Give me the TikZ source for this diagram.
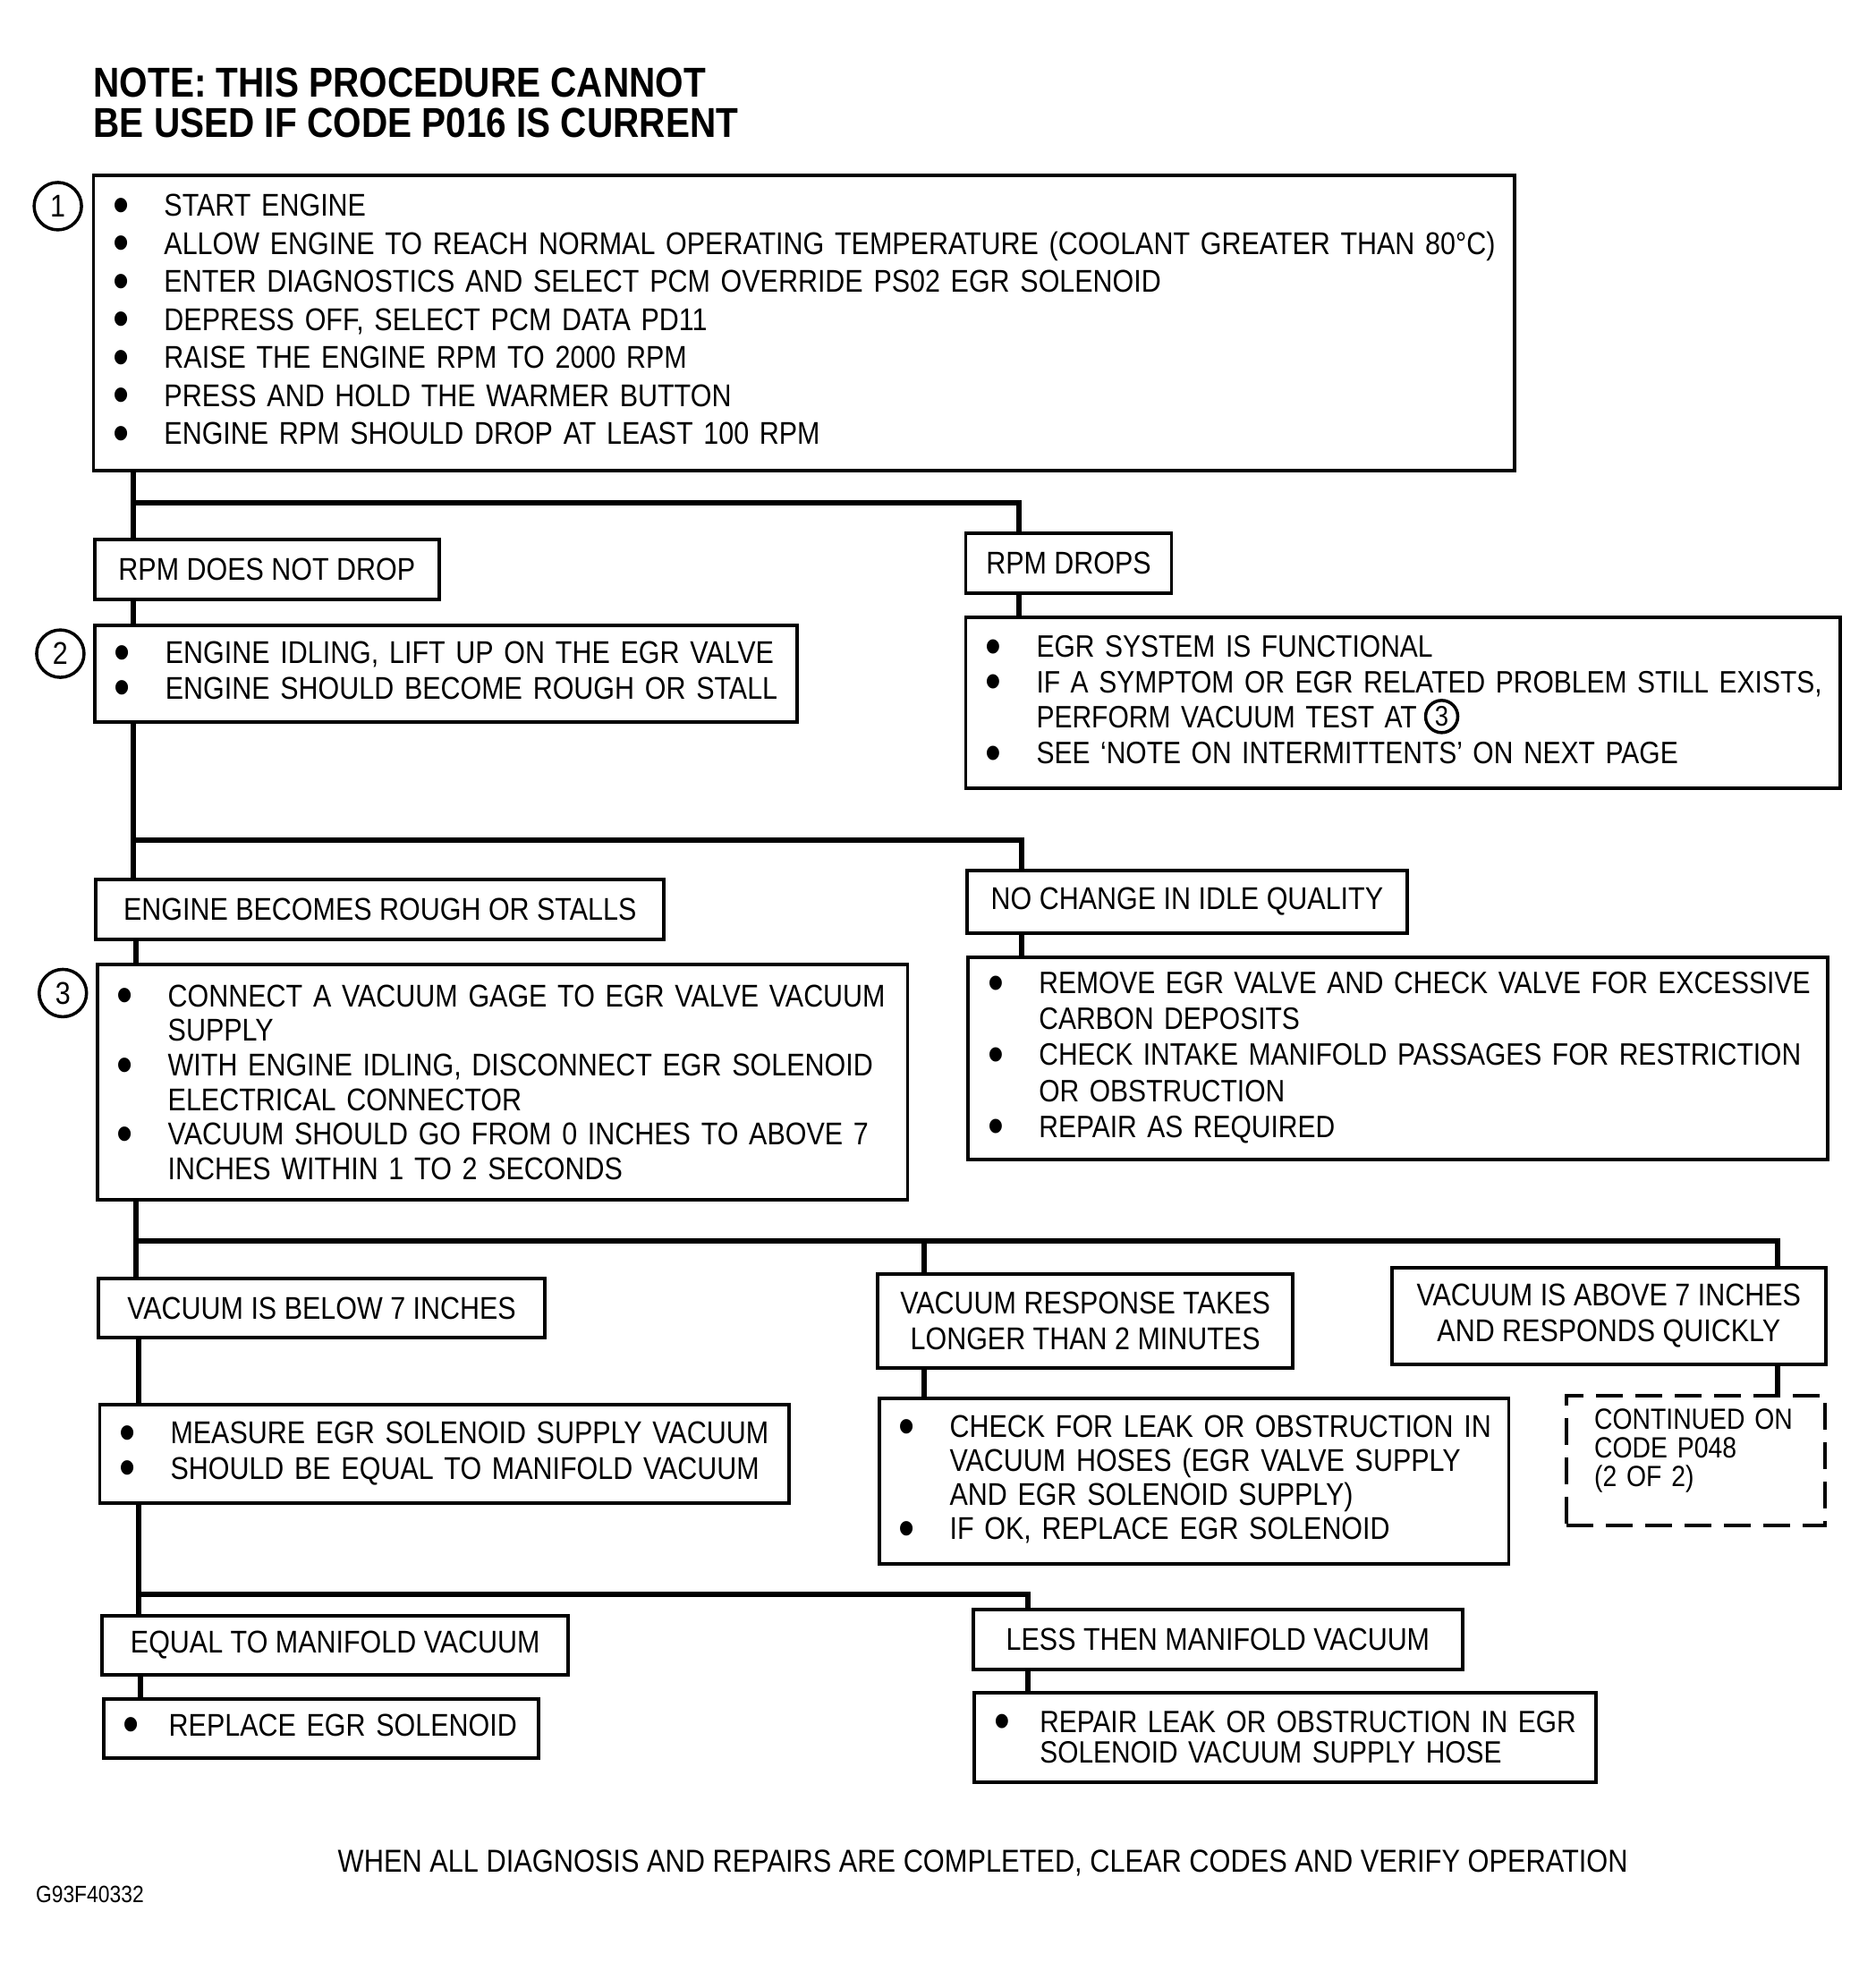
\documentclass[tikz,border=0pt]{standalone}
\usepackage{fontspec}
\setmainfont{Liberation Sans}[FakeStretch=0.867]
\usepackage{graphicx}
\usepackage{tikz}
\usetikzlibrary{positioning, calc}

% bullet line and hanging line for the step boxes (never wrapped)
\newlength{\bulw}
\setlength{\bulw}{0.79cm}
\newcommand{\bul}[1]{\makebox[\bulw][l]{\hspace*{0.22cm}\raisebox{-0.22em}{\scalebox{1.7}{\textbullet}}}\mbox{#1}}
\newcommand{\hang}[1]{\hspace*{\bulw}\mbox{#1}}
\newcommand{\pad}{\hspace*{0.31cm}}

\begin{document}
\begin{tikzpicture}[x=0.014048cm, y=-0.014048cm,
        % Style definitions
        stepbox/.style={
            rectangle,
            draw=black,
            line width=1.1pt,
            anchor=north west,
            align=left,
            inner xsep=0pt,
            inner ysep=0pt,
            font=\fontsize{10}{11.3}\selectfont
        },
        casebox/.style={
            rectangle,
            draw=black,
            line width=1.1pt,
            anchor=north west,
            align=center,
            inner sep=0pt,
            font=\fontsize{10}{11.3}\selectfont
        },
        contbox/.style={
            rectangle,
            draw=black,
            line width=1.1pt,
            dash pattern=on 0.3cm off 0.14cm,
            anchor=north west,
            align=left,
            inner sep=0pt,
            font=\fontsize{9.3}{9.2}\selectfont
        },
        marker/.style={
            circle,
            draw=black,
            line width=1pt,
            inner sep=0pt,
            minimum size=0.53cm,
            font=\fontsize{10}{10}\selectfont
        },
        link/.style={
            line width=1.7pt,
            line join=miter
        }
    ]

        \useasboundingbox (0,0) rectangle (1492,1568);

        % ==========================================
        % Heading
        % ==========================================
        \node (note) [anchor=west, inner sep=0pt, align=left,
            font=\bfseries\fontsize{13.3}{12.8}\selectfont] at (74,82)
            {NOTE: THIS PROCEDURE CANNOT\\BE USED IF CODE P016 IS CURRENT};

        % ==========================================
        % Step boxes and result boxes
        % ==========================================
        % Step 1
        \node (m1) [marker] at (46,164) {1};
        \node (step1) [stepbox, text width=15.89cm, minimum height=3.30cm,
            font=\fontsize{10}{12.1}\selectfont] at (73,138) {
            \bul{START ENGINE}\\
            \bul{ALLOW ENGINE TO REACH NORMAL OPERATING TEMPERATURE (COOLANT GREATER THAN 80°C)}\\
            \bul{ENTER DIAGNOSTICS AND SELECT PCM OVERRIDE PS02 EGR SOLENOID}\\
            \bul{DEPRESS OFF, SELECT PCM DATA PD11}\\
            \bul{RAISE THE ENGINE RPM TO 2000 RPM}\\
            \bul{PRESS AND HOLD THE WARMER BUTTON}\\
            \bul{ENGINE RPM SHOULD DROP AT LEAST 100 RPM}};

        % Results of step 1
        \node (notdrop) [casebox, minimum width=3.85cm, minimum height=0.67cm] at (74,428) {RPM DOES NOT DROP};
        \node (drops) [casebox, minimum width=2.30cm, minimum height=0.67cm] at (767,423) {RPM DROPS};

        % Step 2
        \node (m2) [marker] at (48,520) {2};
        \node (step2) [stepbox, text width=7.85cm, minimum height=1.08cm] at (74,496) {
            \bul{ENGINE IDLING, LIFT UP ON THE EGR VALVE}\\
            \bul{ENGINE SHOULD BECOME ROUGH OR STALL}};

        % System is functional
        \node (functional) [stepbox, text width=9.78cm, minimum height=1.91cm,
            font=\fontsize{9.85}{11.3}\selectfont] at (767,490) {
            \bul{EGR SYSTEM IS FUNCTIONAL}\\
            \bul{IF A SYMPTOM OR EGR RELATED PROBLEM STILL EXISTS,}\\
            \hang{PERFORM VACUUM TEST AT}\\
            \bul{SEE ‘NOTE ON INTERMITTENTS’ ON NEXT PAGE}};
        \node (mref) [marker, minimum size=0.36cm, font=\fontsize{9}{9}\selectfont] at (1147,570) {3};

        % Results of step 2
        \node (rough) [casebox, minimum width=6.35cm, minimum height=0.67cm] at (75,698) {ENGINE BECOMES ROUGH OR STALLS};
        \node (nochange) [casebox, minimum width=4.92cm, minimum height=0.70cm] at (768,691) {NO CHANGE IN IDLE QUALITY};

        % Step 3
        \node (m3) [marker] at (50,790) {3};
        \node (step3) [stepbox, text width=9.06cm, minimum height=2.63cm,
            font=\fontsize{10}{11}\selectfont] at (76,766) {
            \bul{CONNECT A VACUUM GAGE TO EGR VALVE VACUUM}\\
            \hang{SUPPLY}\\
            \bul{WITH ENGINE IDLING, DISCONNECT EGR SOLENOID}\\
            \hang{ELECTRICAL CONNECTOR}\\
            \bul{VACUUM SHOULD GO FROM 0 INCHES TO ABOVE 7}\\
            \hang{INCHES WITHIN 1 TO 2 SECONDS}};

        % Idle quality unchanged
        \node (remove) [stepbox, text width=9.61cm, minimum height=2.26cm,
            font=\fontsize{9.85}{11.4}\selectfont] at (769,760) {
            \bul{REMOVE EGR VALVE AND CHECK VALVE FOR EXCESSIVE}\\
            \hang{CARBON DEPOSITS}\\
            \bul{CHECK INTAKE MANIFOLD PASSAGES FOR RESTRICTION}\\
            \hang{OR OBSTRUCTION}\\
            \bul{REPAIR AS REQUIRED}};

        % Results of step 3
        \node (below) [casebox, minimum width=4.99cm, minimum height=0.66cm] at (77,1016) {VACUUM IS BELOW 7 INCHES};
        \node (slow) [casebox, minimum width=4.64cm, minimum height=1.05cm] at (697,1012) {VACUUM RESPONSE TAKES\\LONGER THAN 2 MINUTES};
        \node (above) [casebox, minimum width=4.85cm, minimum height=1.08cm] at (1106,1007) {VACUUM IS ABOVE 7 INCHES\\AND RESPONDS QUICKLY};

        % Continuation
        \node (continued) [contbox, text width=2.89cm, minimum height=1.45cm] at (1245,1109) {
            \pad CONTINUED ON\\
            \pad CODE P048\\
            \pad (2 OF 2)\rule[-0.29cm]{0pt}{0.29cm}};

        % Slow response
        \node (checkleak) [stepbox, text width=7.04cm, minimum height=1.85cm,
            font=\fontsize{10}{10.8}\selectfont] at (698,1111) {
            \bul{CHECK FOR LEAK OR OBSTRUCTION IN}\\
            \hang{VACUUM HOSES (EGR VALVE SUPPLY}\\
            \hang{AND EGR SOLENOID SUPPLY)}\\
            \bul{IF OK, REPLACE EGR SOLENOID}};

        % Low vacuum
        \node (measure) [stepbox, text width=7.71cm, minimum height=1.10cm] at (78,1116) {
            \bul{MEASURE EGR SOLENOID SUPPLY VACUUM}\\
            \bul{SHOULD BE EQUAL TO MANIFOLD VACUUM}};

        % Results of the supply measurement
        \node (equal) [casebox, minimum width=5.21cm, minimum height=0.66cm] at (80,1284) {EQUAL TO MANIFOLD VACUUM};
        \node (less) [casebox, minimum width=5.47cm, minimum height=0.67cm] at (773,1279) {LESS THEN MANIFOLD VACUUM};
        \node (replace) [stepbox, text width=4.86cm, minimum height=0.66cm] at (81,1350) {
            \setlength{\bulw}{0.73cm}\bul{REPLACE EGR SOLENOID}};
        \node (repair) [stepbox, text width=6.95cm, minimum height=1.00cm,
            font=\fontsize{9.8}{9.8}\selectfont] at (774,1345) {
            \setlength{\bulw}{0.73cm}\bul{REPAIR LEAK OR OBSTRUCTION IN EGR}\\
            \hang{SOLENOID VACUUM SUPPLY HOSE}};

        % Footer
        \node (footer) [inner sep=0pt, font=\fontsize{10.1}{11}\selectfont] at (782,1482)
            {WHEN ALL DIAGNOSIS AND REPAIRS ARE COMPLETED, CLEAR CODES AND VERIFY OPERATION};
        \node (figid) [anchor=west, inner sep=0pt, font=\fontsize{7.5}{8}\selectfont] at (28,1507) {G93F40332};

        % ==========================================
        % Connections
        % ==========================================
        % Spine and branch columns
        \coordinate (sA) at (106,0);
        \coordinate (sB) at (108,0);
        \coordinate (sC) at (110,0);
        \coordinate (sD) at (112,0);
        \coordinate (cDrop) at (811,0);
        \coordinate (cIdle) at (813,0);
        \coordinate (cSlow) at (735,0);
        \coordinate (cQuick) at (1414,0);
        \coordinate (cLess) at (818,0);

        % Branch points on the spine
        \coordinate (j1) at (106,400);
        \coordinate (j2) at (106,668);
        \coordinate (j3) at (108,987);
        \coordinate (j4) at (110,1268);

        % Step 1 outcomes
        \draw [link] (step1.south -| sA) -- (notdrop.north -| sA);
        \draw [link] (j1) -| (drops.north -| cDrop);
        \draw [link] (drops.south -| cDrop) -- (functional.north -| cDrop);
        \draw [link] (notdrop.south -| sA) -- (step2.north -| sA);

        % Step 2 outcomes
        \draw [link] (step2.south -| sA) -- (rough.north -| sA);
        \draw [link] (j2) -| (nochange.north -| cIdle);
        \draw [link] (nochange.south -| cIdle) -- (remove.north -| cIdle);
        \draw [link] (rough.south -| sB) -- (step3.north -| sB);

        % Step 3 outcomes
        \draw [link] (step3.south -| sB) -- (below.north -| sB);
        \draw [link] (j3) -| (above.north -| cQuick);
        \draw [link] (slow.north -| cSlow) -- (j3 -| cSlow);
        \draw [link] (above.south -| cQuick) -- (continued.north -| cQuick);
        \draw [link] (slow.south -| cSlow) -- (checkleak.north -| cSlow);

        % Supply vacuum outcomes
        \draw [link] (below.south -| sC) -- (measure.north -| sC);
        \draw [link] (measure.south -| sC) -- (equal.north -| sC);
        \draw [link] (j4) -| (less.north -| cLess);
        \draw [link] (equal.south -| sD) -- (replace.north -| sD);
        \draw [link] (less.south -| cLess) -- (repair.north -| cLess);

    \end{tikzpicture}
\end{document}
